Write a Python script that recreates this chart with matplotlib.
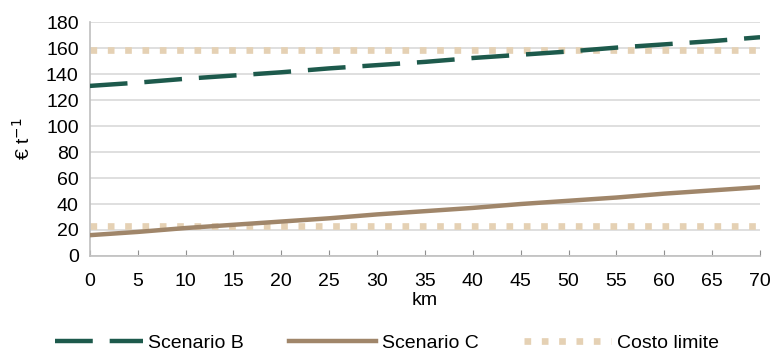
import matplotlib.pyplot as plt

plt.rcParams['font.family'] = ['Liberation Sans', 'DejaVu Sans']

km = [0, 5, 10, 15, 20, 25, 30, 35, 40, 45, 50, 55, 60, 65, 70]
scenario_b = [131, 133.5, 136.5, 139, 141.5, 144.5, 147, 149.5, 152.5, 155, 157.5, 160.5, 163, 165.5, 168.5]
scenario_c = [16, 18.5, 21.5, 24, 26.5, 29, 32, 34.5, 37, 40, 42.5, 45, 48, 50.5, 53]
costo_alto = [159] * len(km)
costo_basso = [23] * len(km)

c_b = '#1d5a4c'
c_c = '#a0866a'
c_lim = '#e5d1b4'

fig = plt.figure(figsize=(7.74, 3.54), dpi=100)
ax = fig.add_axes([0.116, 0.277, 0.866, 0.66])

ax.plot(km, costo_alto, color=c_lim, lw=4.8, linestyle=(0, (1.0, 1.6)), label='Costo limite', zorder=2)
ax.plot(km, costo_basso, color=c_lim, lw=4.8, linestyle=(0, (1.0, 1.6)), zorder=2)
ax.plot(km, scenario_b, color=c_b, lw=3.2, linestyle=(0, (8.5, 3.8)), label='Scenario B', zorder=3)
ax.plot(km, scenario_c, color=c_c, lw=3.2, label='Scenario C', zorder=3)

ax.set_xlim(0, 70)
ax.set_ylim(0, 180)
ax.set_xticks(km)
ax.set_yticks(range(0, 181, 20))
ax.grid(axis='y', color='#d9d9d9', lw=1.2)
ax.set_axisbelow(True)
for s in ['top', 'right']:
    ax.spines[s].set_visible(False)
for s in ['left', 'bottom']:
    ax.spines[s].set_color('#bfbfbf')
    ax.spines[s].set_linewidth(1.2)
ax.tick_params(axis='x', direction='in', length=4, color='#909090', labelsize=14, pad=12)
ax.tick_params(axis='y', length=0, labelsize=14, pad=8)
ax.set_xlabel('km', fontsize=14, labelpad=2)
ax.set_ylabel('€ t$^{-1}$', fontsize=14, labelpad=9)

handles, labels = ax.get_legend_handles_labels()
order = [1, 2, 0]
fig.legend([handles[i] for i in order], [labels[i] for i in order],
           loc='center', bbox_to_anchor=(0.5, 0.03), ncol=3, frameon=False,
           fontsize=14, handlelength=4.5, columnspacing=2.3, handletextpad=0.3)

fig.savefig('out.png', dpi=100)
